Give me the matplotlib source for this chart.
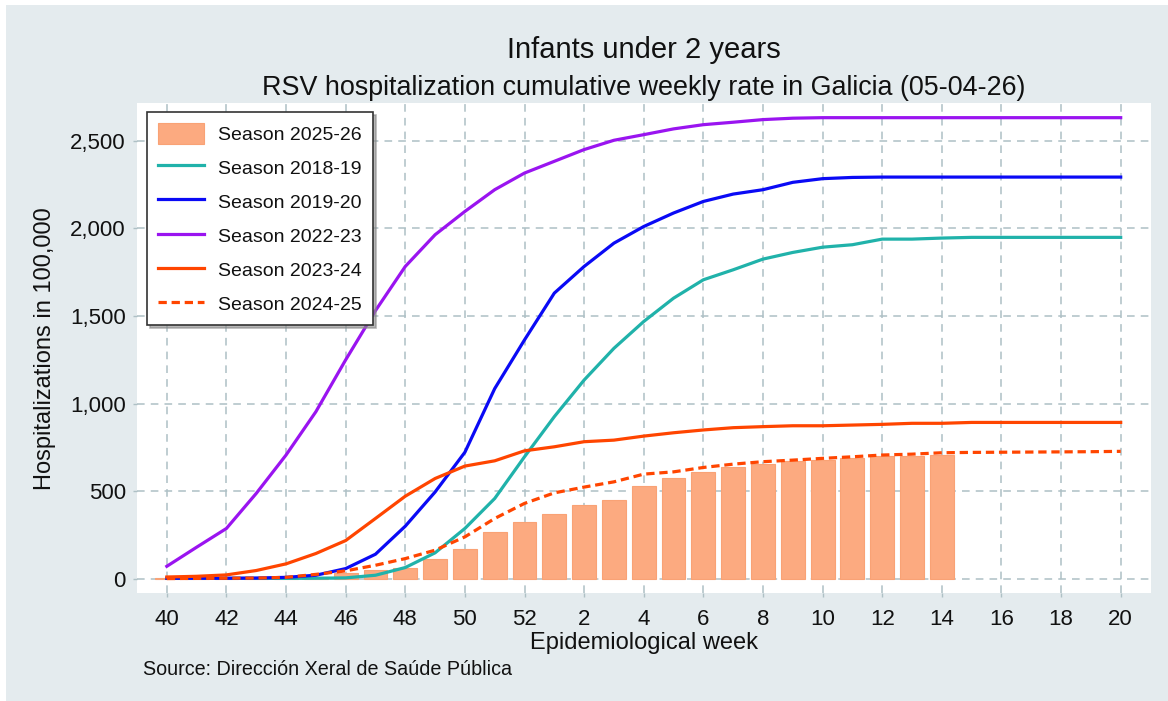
import matplotlib
matplotlib.use("Agg")
import matplotlib.pyplot as plt
from matplotlib.patches import Rectangle, Patch
from matplotlib.lines import Line2D
import numpy as np

plt.rcParams['font.family'] = ['Liberation Sans', 'DejaVu Sans']

# ---------------- data ----------------
weeks = list(range(40, 53)) + list(range(1, 21))
tick_labels = ['40', '42', '44', '46', '48', '50', '52', '2', '4', '6', '8',
               '10', '12', '14', '16', '18', '20']

season_2025_26 = [3, 3, 4, 4, 5, 9, 30, 50, 64, 115, 172, 264, 323,
                  372, 420, 449, 527, 574, 610, 639, 654, 670, 679, 689, 698, 702, 706]

season_2018_19 = [2, 2, 2, 2, 2, 3, 5, 20, 64, 148, 287, 458, 696,
                  925, 1134, 1315, 1468, 1601, 1706, 1763, 1824, 1862, 1892, 1906,
                  1938, 1938, 1944, 1948, 1948, 1948, 1948, 1948, 1948]

season_2019_20 = [3, 3, 3, 4, 8, 20, 58, 140, 300, 495, 722, 1085, 1363,
                  1630, 1782, 1915, 2010, 2087, 2153, 2195, 2220, 2262, 2283, 2290,
                  2292, 2292, 2292, 2292, 2292, 2292, 2292, 2292, 2292]

season_2022_23 = [71, 180, 287, 487, 706, 953, 1249, 1530, 1782, 1963, 2096, 2220, 2315,
                  2382, 2449, 2502, 2534, 2567, 2591, 2605, 2620, 2628, 2631, 2631,
                  2631, 2631, 2631, 2631, 2631, 2631, 2631, 2631, 2631]

season_2023_24 = [10, 14, 22, 47, 85, 144, 218, 344, 471, 572, 643, 673, 730,
                  753, 782, 791, 814, 833, 849, 862, 868, 873, 873, 877,
                  881, 887, 887, 892, 892, 892, 892, 892, 892]

season_2024_25 = [1, 2, 3, 4, 8, 25, 45, 77, 115, 163, 239, 344, 430,
                  490, 523, 553, 597, 610, 635, 654, 668, 677, 687, 696,
                  706, 711, 719, 721, 722, 723, 724, 725, 727]

# ---------------- figure ----------------
W, H = 1168, 701
fig = plt.figure(figsize=(W / 100, H / 100), dpi=100, facecolor='white')
fig.patches.append(Rectangle((6 / W, 0), 1 - 6 / W, 1 - 5 / H, transform=fig.transFigure,
                             facecolor='#E4EBEE', edgecolor='none', zorder=-10))

ax = fig.add_axes([137 / W, 1 - 593.3 / H, (1150.5 - 137) / W, (593.3 - 103.3) / H])
ax.set_facecolor('white')

x_all = np.arange(len(weeks))
x_bar = np.arange(len(season_2025_26))

bar_c = '#FCAA80'
ax.bar(x_bar, season_2025_26, width=0.8, color=bar_c, edgecolor='#F9A275',
       linewidth=0.8, zorder=2)

lw = 2.3
ax.plot(x_all, season_2018_19, color='#20B2AA', lw=lw, zorder=3)
ax.plot(x_all, season_2019_20, color='#0A0AF5', lw=lw, zorder=3)
ax.plot(x_all, season_2022_23, color='#9A14F0', lw=lw, zorder=3)
ax.plot(x_all, season_2023_24, color='#FF4500', lw=lw, zorder=3)
ax.plot(x_all, season_2024_25, color='#FF4500', lw=lw, ls=(0, (2.6, 1.5)), zorder=3)

ax.set_xlim(-1, 33)
ax.set_ylim(-83, 2713)

tick_pos = x_all[::2]
ax.set_xticks(tick_pos)
ax.set_xticklabels(tick_labels)
yt = [0, 500, 1000, 1500, 2000, 2500]
ax.set_yticks(yt)
ax.set_yticklabels([f'{v:,}' for v in yt])

for s in ax.spines.values():
    s.set_visible(False)

grid_c = '#AEC0C5'
ax.set_axisbelow(True)
ax.grid(True, color=grid_c, linestyle=(0, (5, 4)), linewidth=1.1)
ax.tick_params(axis='both', colors=grid_c, length=3, width=1, labelcolor='#111111',
               labelsize=16)
ax.tick_params(axis='x', pad=8)
ax.tick_params(axis='y', pad=5)

ax.set_xlabel('Epidemiological week', fontsize=17, color='#111111', labelpad=2)
ax.set_ylabel('Hospitalizations in 100,000', fontsize=17, color='#111111', labelpad=10)

cx = (137 + 1150.5) / 2 / W
fig.text(cx, 1 - 58 / H, 'Infants under 2 years', ha='center', va='baseline',
         fontsize=21, color='#111111')
fig.text(cx, 1 - 95 / H, 'RSV hospitalization cumulative weekly rate in Galicia (05-04-26)',
         ha='center', va='baseline', fontsize=19.4, color='#111111')
fig.text(143 / W, 1 - 675 / H, 'Source: Dirección Xeral de Saúde Pública',
         ha='left', va='baseline', fontsize=14.2, color='#111111')

handles = [
    Patch(facecolor=bar_c, edgecolor='#F9A275', linewidth=0.8),
    Line2D([], [], color='#20B2AA', lw=lw),
    Line2D([], [], color='#0A0AF5', lw=lw),
    Line2D([], [], color='#9A14F0', lw=lw),
    Line2D([], [], color='#FF4500', lw=lw),
    Line2D([], [], color='#FF4500', lw=lw, ls=(0, (2.6, 1.5))),
]
labels = ['Season 2025-26', 'Season 2018-19', 'Season 2019-20',
          'Season 2022-23', 'Season 2023-24', 'Season 2024-25']
leg = ax.legend(handles, labels, loc='upper left',
                bbox_to_anchor=((147 - 137) / 1013.5, (593.3 - 112) / 490),
                borderaxespad=0, fontsize=14, frameon=True, fancybox=False,
                handlelength=2.37, handleheight=1.29, handletextpad=0.75,
                labelspacing=0.67, borderpad=0.55,
                shadow={'color': '#888888', 'alpha': 0.6})
leg.get_frame().set_edgecolor('#333333')
leg.get_frame().set_linewidth(1.2)
leg.get_frame().set_facecolor('white')
leg.get_frame().set_alpha(1)
for t in leg.get_texts():
    t.set_color('#111111')

fig.savefig('out.png', dpi=100, facecolor=fig.get_facecolor())
